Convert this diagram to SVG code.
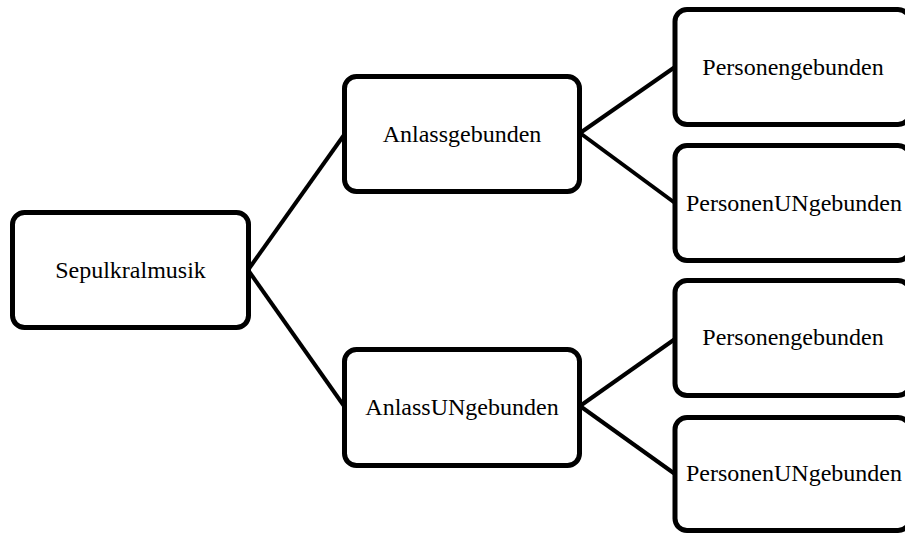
<svg xmlns="http://www.w3.org/2000/svg" width="905" height="533" viewBox="0 0 905 533">
<style>
.box{fill:#fff;stroke:#000;stroke-width:5}
.lbl{font-family:"Liberation Serif","Times New Roman",serif;font-size:24px;fill:#000;text-anchor:middle}
.conn{stroke:#000;stroke-width:4;fill:none}
</style>
<rect width="905" height="533" fill="#fff"/>
<g id="connectors">
<line class="conn" x1="248" y1="270" x2="344" y2="135"/>
<line class="conn" x1="248" y1="270" x2="344" y2="406"/>
<line class="conn" x1="580" y1="133" x2="675" y2="67"/>
<line class="conn" x1="580" y1="133" x2="675" y2="203"/>
<line class="conn" x1="580" y1="406" x2="675" y2="339"/>
<line class="conn" x1="580" y1="406" x2="675" y2="474"/>
</g>
<g id="n0"><rect class="box" x="12.5" y="212.5" width="236" height="115" rx="12"/><text class="lbl" x="130.5" y="278">Sepulkralmusik</text></g>
<g id="n1"><rect class="box" x="344.5" y="76.5" width="235" height="115" rx="12"/><text class="lbl" x="462" y="142">Anlassgebunden</text></g>
<g id="n2"><rect class="box" x="344.5" y="349.5" width="235" height="116" rx="12"/><text class="lbl" x="462" y="415">AnlassUNgebunden</text></g>
<g id="n3"><rect class="box" x="675" y="9.5" width="235" height="115" rx="12"/><text class="lbl" x="793" y="75">Personengebunden</text></g>
<g id="n4"><rect class="box" x="675" y="145.5" width="235" height="115" rx="12"/><text class="lbl" x="794" y="211">PersonenUNgebunden</text></g>
<g id="n5"><rect class="box" x="675" y="280.5" width="235" height="115" rx="12"/><text class="lbl" x="793" y="345">Personengebunden</text></g>
<g id="n6"><rect class="box" x="675" y="417.5" width="235" height="113" rx="12"/><text class="lbl" x="794" y="481">PersonenUNgebunden</text></g>
</svg>
